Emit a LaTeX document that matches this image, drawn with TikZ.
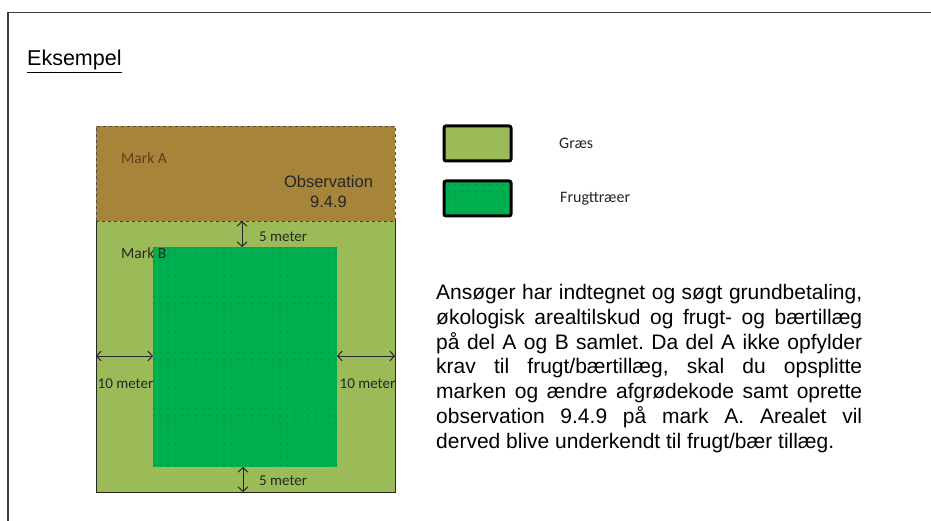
\documentclass[tikz,border=0pt]{standalone}
\usepackage{fontspec}
\setmainfont{Liberation Sans}
\newfontfamily\calfont{Carlito}
\usetikzlibrary{arrows.meta,patterns.meta}
\definecolor{brownA}{RGB}{166,133,58}
\definecolor{grass}{RGB}{155,187,89}
\definecolor{tree}{RGB}{0,176,80}
\definecolor{markA}{RGB}{110,55,25}
\definecolor{frameC}{RGB}{60,60,60}
\tikzset{
  frameline/.style={draw=frameC, line width=1.6pt},
  dimarrow/.style={{Straight Barb[length=4.5pt,width=10pt]}-{Straight Barb[length=4.5pt,width=10pt]}, line width=1pt, draw=black!85},
  callabel/.style={font=\calfont\fontsize{15}{18}\selectfont, inner sep=0pt, text=black!85},
  leglabel/.style={font=\calfont\fontsize{16}{19}\selectfont, inner sep=0pt, text=black!85},
  legbox/.style={draw=black, line width=3pt, rounded corners=2pt, minimum width=67pt, minimum height=35pt, inner sep=0pt},
  treepat/.style={pattern={Dots[distance=7pt,radius=0.5pt]}, pattern color=black!50!tree},
}
\frenchspacing
\begin{document}
\begin{tikzpicture}[x=1pt,y=-1pt]
\useasboundingbox (0,0) rectangle (931,521);
% frame
\draw[frameline] (8,521) -- (8,12.5) -- (931,12.5);
% title
\node[anchor=base west, inner sep=0pt, font=\fontsize{21.5}{25}\selectfont] (title) at (27,66) {\underline{Eksempel}};
% field A
\fill[brownA] (96,126) rectangle (395,221);
\draw[black!70, dashed, line width=0.6pt] (96,221) -- (96,126) -- (395,126) -- (395,221);
% field B
\fill[grass] (96,221) rectangle (395,492);
\draw[black!85, line width=1pt] (96,221) -- (96,492) -- (395,492) -- (395,221);
\draw[black!75, dashed, line width=0.8pt] (96,221) -- (395,221);
% trees
\fill[tree] (153,247) rectangle (337,467);
\fill[treepat] (153,247) rectangle (337,467);
% labels in field
\node[anchor=west, inner sep=0pt, font=\calfont\fontsize{15.5}{18}\selectfont, text=markA] (markA) at (121,158) {Mark A};
\node[align=center, inner sep=0pt, font=\fontsize{16.5}{20}\selectfont, text=black!85] (obs) at (328.5,192) {Observation\\9.4.9};
\node[anchor=west, inner sep=0pt, font=\calfont\fontsize{15.5}{18}\selectfont, text=black!85] (markB) at (121,253) {Mark B};
% dimension arrows
\coordinate (t1) at (242,221);
\coordinate (t2) at (242,247);
\draw[dimarrow] (t1) -- (t2);
\node[callabel, anchor=west] (lt) at (259,237) {5 meter};
\coordinate (b1) at (243,467);
\coordinate (b2) at (243,492);
\draw[dimarrow] (b1) -- (b2);
\node[callabel, anchor=west] (lb) at (259,481) {5 meter};
\coordinate (l1) at (96,356);
\coordinate (l2) at (153,356);
\draw[dimarrow] (l1) -- (l2);
\node[callabel] (ll) at (125.5,384) {10 meter};
\coordinate (r1) at (337,356);
\coordinate (r2) at (395,356);
\draw[dimarrow] (r1) -- (r2);
\node[callabel] (lr) at (367.5,384) {10 meter};
% legend
\node[legbox, fill=grass] (lg1) at (477.5,143.5) {};
\node[legbox, fill=tree] (lg2) at (477.5,198.5) {};
\fill[treepat] ([shift={(2,-2)}]lg2.south west) rectangle ([shift={(-2,2)}]lg2.north east);
\node[leglabel, anchor=west] (lgt1) at (559,143) {Græs};
\node[leglabel, anchor=west] (lgt2) at (560,199) {Frugttræer};
% paragraph
\node[anchor=north west, inner sep=0pt, align=left, font=\fontsize{21}{24.8}\selectfont, text=black] (para) at (436,284) {%
\makebox[426pt][s]{Ansøger har indtegnet og søgt grundbetaling,}\\
\makebox[426pt][s]{økologisk arealtilskud og frugt- og bærtillæg}\\
\makebox[426pt][s]{på del A og B samlet. Da del A ikke opfylder}\\
\makebox[426pt][s]{krav til frugt/bærtillæg, skal du opsplitte}\\
\makebox[426pt][s]{marken og ændre afgrødekode samt oprette}\\
\makebox[426pt][s]{observation 9.4.9 på mark A. Arealet vil}\\
derved blive underkendt til frugt/bær tillæg.};
\end{tikzpicture}
\end{document}
